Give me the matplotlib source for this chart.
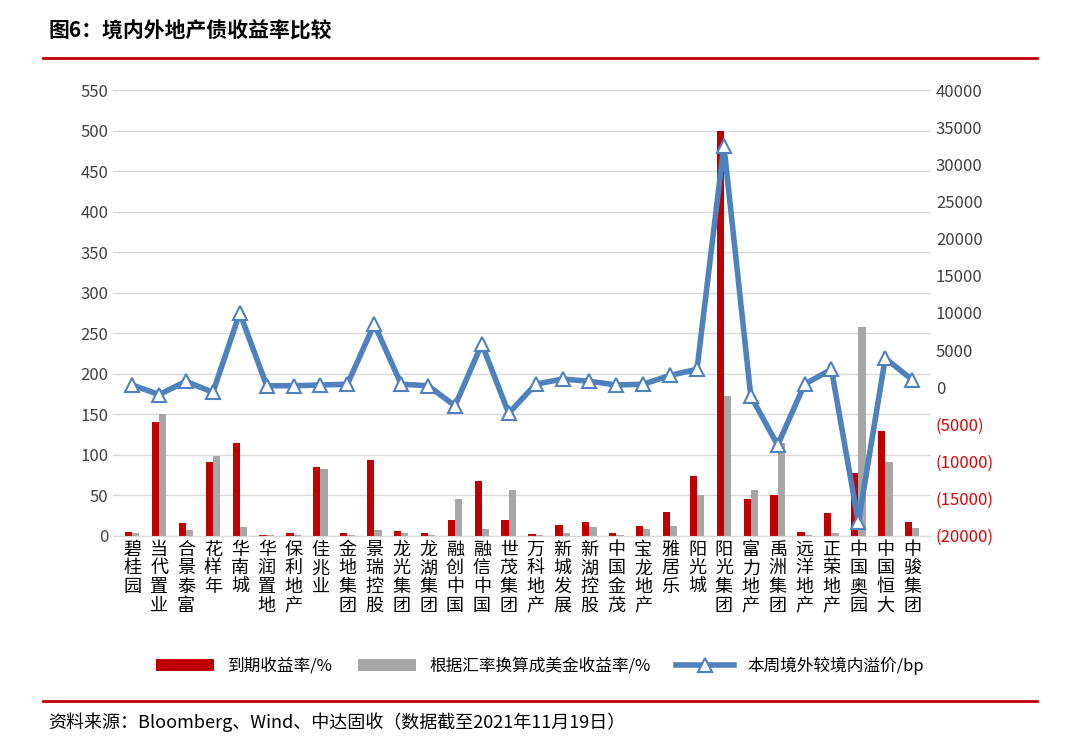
import matplotlib
matplotlib.use('Agg')
import matplotlib.pyplot as plt
from matplotlib.ticker import FuncFormatter

plt.rcParams['font.family'] = ['Noto Sans CJK SC', 'DejaVu Sans']

companies = ['碧桂园', '当代置业', '合景泰富', '花样年', '华南城', '华润置地', '保利地产', '佳兆业',
             '金地集团', '景瑞控股', '龙光集团', '龙湖集团', '融创中国', '融信中国', '世茂集团',
             '万科地产', '新城发展', '新湖控股', '中国金茂', '宝龙地产', '雅居乐', '阳光城',
             '阳光集团', '富力地产', '禹洲集团', '远洋地产', '正荣地产', '中国奥园', '中国恒大', '中骏集团']
ytm = [5, 140, 16, 91, 115, 1, 3, 85, 4, 94, 6, 3, 19, 67, 20, 2, 13, 17, 3, 12,
       29, 74, 499, 46, 50, 5, 28, 77, 129, 17]
ytm_usd = [3, 150, 7, 98, 11, 1, 1, 83, 1, 7, 3, 1, 46, 8, 57, 1, 4, 11, 1, 8,
           12, 50, 173, 57, 115, 1, 4, 258, 91, 9]
premium = [300, -1000, 800, -700, 10000, 200, 200, 300, 400, 8500, 400, 200, -2500, 5800, -3500,
           400, 1100, 800, 300, 400, 1600, 2400, 32500, -1200, -7800, 400, 2400, -18200, 3900, 1000]

fig = plt.figure(figsize=(10.8, 7.38), dpi=100)
ax = fig.add_axes([0.105, 0.274, 0.757, 0.604])
x = list(range(len(companies)))
w = 0.27
ax.bar([i - w / 2 for i in x], ytm, w, color='#C00000', label='到期收益率/%', zorder=2)
ax.bar([i + w / 2 for i in x], ytm_usd, w, color='#A6A6A6', label='根据汇率换算成美金收益率/%', zorder=2)
ax.set_ylim(0, 550)
ax.set_yticks(range(0, 551, 50))
ax.set_xlim(-0.7, len(companies) - 0.3)
ax.grid(axis='y', color='#D9D9D9', linewidth=1, zorder=0)
ax.set_xticks(x)
ax.set_xticklabels(['\n'.join(c) for c in companies], fontsize=13, linespacing=1.05)
ax.tick_params(length=0, labelsize=12, colors='#404040')
ax.tick_params(axis='x', colors='black', labelsize=13)
for s in ax.spines.values():
    s.set_visible(False)
ax.spines['bottom'].set_visible(True)
ax.spines['bottom'].set_color('#D9D9D9')

ax2 = ax.twinx()
ax2.plot(x, premium, color='#4F81BD', linewidth=4, marker='^', markersize=10,
         markerfacecolor='white', markeredgecolor='#4F81BD', markeredgewidth=1.5,
         label='本周境外较境内溢价/bp', zorder=3)
ax2.set_ylim(-20000, 40000)
ax2.set_yticks(range(-20000, 40001, 5000))
ax2.yaxis.set_major_formatter(FuncFormatter(lambda v, p: f'({abs(int(v))})' if v < 0 else f'{int(v)}'))
ax2.tick_params(length=0, labelsize=12, colors='#404040')
for t, v in zip(ax2.get_yticklabels(), ax2.get_yticks()):
    if v < 0:
        t.set_color('#E00000')
for s in ax2.spines.values():
    s.set_visible(False)

h1, l1 = ax.get_legend_handles_labels()
h2, l2 = ax2.get_legend_handles_labels()
fig.legend(h1 + h2, l1 + l2, loc='center', bbox_to_anchor=(0.5, 0.098), ncol=3, frameon=False,
           fontsize=12, handlelength=3.5, columnspacing=1.5)

fig.text(0.045, 0.958, '图6：境内外地产债收益率比较', fontsize=15, fontweight='bold', va='center')
fig.add_artist(plt.Line2D([0.04, 0.96], [0.922, 0.922], color='#C00000', linewidth=2))
fig.add_artist(plt.Line2D([0.04, 0.96], [0.05, 0.05], color='#C00000', linewidth=2))
fig.text(0.045, 0.022, '资料来源：Bloomberg、Wind、中达固收（数据截至2021年11月19日）', fontsize=13, va='center')

fig.savefig('out.png', dpi=100)
